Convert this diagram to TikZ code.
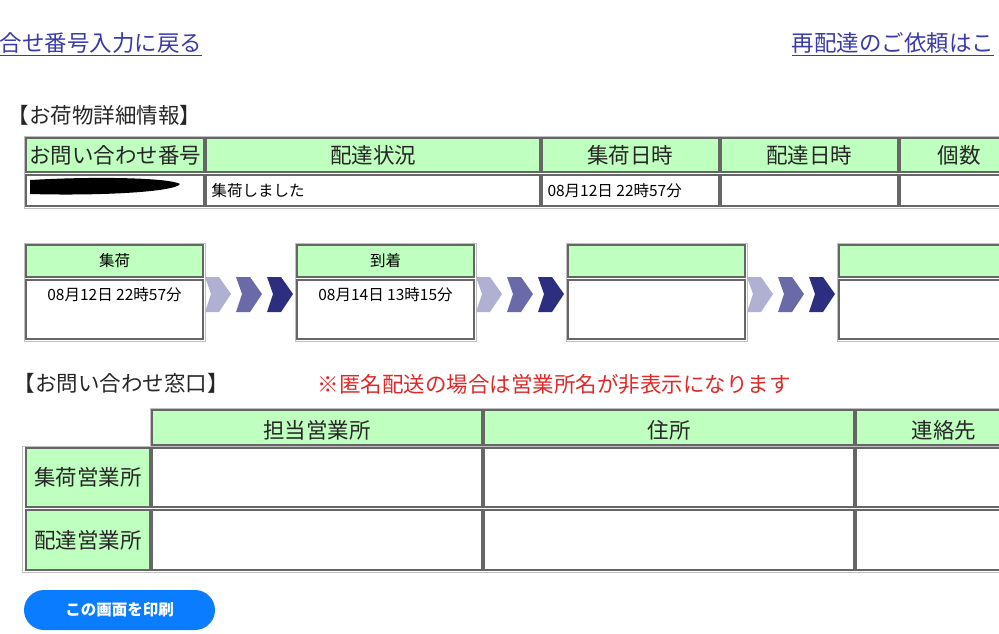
\documentclass[tikz,border=0pt]{standalone}
\usepackage{fontspec}
\setmainfont{Noto Sans CJK JP}
\begin{document}
\begin{tikzpicture}[x=1pt,y=-1pt,
  cell/.style={draw=black!60,line width=1.2pt},
  hd/.style={cell,fill=green!25!white},
  ttl/.style={font=\fontsize{21.5}{21.5}\selectfont,text=black!85},
  sm/.style={font=\fontsize{15.5}{15.5}\selectfont},
  lnk/.style={font=\fontsize{22.5}{22.5}\selectfont,text=linkc}]
\definecolor{linkc}{HTML}{3A3AA8}
\definecolor{a1}{HTML}{B0B0D2}
\definecolor{a2}{HTML}{6A6AA8}
\definecolor{a3}{HTML}{2E2E80}
\definecolor{btn}{HTML}{0A7CFF}
\definecolor{redt}{HTML}{E02828}
\useasboundingbox (0,0) rectangle (999,633);
\clip (0,0) rectangle (999,633);
% links
\node[lnk,anchor=west] (l1) at (-4,44) {\underline{合せ番号入力に戻る}};
\node[lnk,anchor=west] (l2) at (788,44) {\underline{再配達のご依頼はこ}};
\node[ttl,anchor=west] (t1) at (4,115) {【お荷物詳細情報】};
% table 1
\draw[black!25,line width=1pt] (24,136) rectangle (1010,208);
\foreach \a/\b/\c/\t [count=\i] in {26/204/115/お問い合わせ番号,206/540/373/配達状況,542/719/630/集荷日時,721/898/809/配達日時,900/1010/959/個数}{
  \draw[hd] (\a,138) rectangle (\b,172);
  \node[ttl] (h\i) at (\c,155) {\t};
  \draw[cell] (\a,175) rectangle (\b,206);
}
\fill[black] (30,180) .. controls (100,176) and (170,178) .. (180,184) .. controls (175,192) and (100,196) .. (30,194) -- cycle;
\node[sm,anchor=west] (d2) at (208,191) {集荷しました};
\node[sm,anchor=west] (d3) at (544,191) {08月12日 22時57分};
% status boxes
\foreach \x/\t/\d [count=\i] in {24/集荷/08月12日 22時57分,295/到着/08月14日 13時15分,566//,837//}{
  \draw[black!25,line width=1pt] (\x,243) rectangle ({\x+181},341);
  \draw[hd] ({\x+2},245) rectangle ({\x+179},277);
  \draw[cell] ({\x+2},280) rectangle ({\x+179},339);
  \node[sm] (s\i) at ({\x+90.5},261) {\t};
  \node[sm] (b\i) at ({\x+90.5},295) {\d};
}
\foreach \x in {205,476,747}{
  \foreach \o/\c in {0/a1,31/a2,62/a3}{
    \fill[\c] ({\x+\o},277) -- ({\x+\o+14},277) -- ({\x+\o+26},294) -- ({\x+\o+14},312) -- ({\x+\o},312) -- ({\x+\o+6},294) -- cycle;
  }
}
% contact
\node[ttl,anchor=west] (t2) at (10,383) {【お問い合わせ窓口】};
\node[font=\fontsize{21.5}{21.5}\selectfont,text=redt,anchor=west] (r) at (314,384) {※匿名配送の場合は営業所名が非表示になります};
\draw[black!25,line width=1pt] (150,408) rectangle (1010,448);
\draw[black!25,line width=1pt] (22,446) rectangle (1010,572);
\foreach \a/\b/\c/\t [count=\i] in {152/482/317/担当営業所,484/854/669/住所,856/1010/944/連絡先}{
  \draw[hd] (\a,410) rectangle (\b,445);
  \node[ttl] (c\i) at (\c,430) {\t};
  \draw[cell] (\a,448) rectangle (\b,507);
  \draw[cell] (\a,510) rectangle (\b,570);
}
\draw[hd] (26,448) rectangle (150,507);
\draw[hd] (26,510) rectangle (150,570);
\node[ttl] (rw1) at (88,477) {集荷営業所};
\node[ttl] (rw2) at (88,540) {配達営業所};
% button
\node[fill=btn,rounded corners=20pt,minimum width=191pt,minimum height=40pt,text=white,font=\fontsize{15.5}{15.5}\selectfont\bfseries] (btn) at (119.5,610) {この画面を印刷};
\end{tikzpicture}
\end{document}
